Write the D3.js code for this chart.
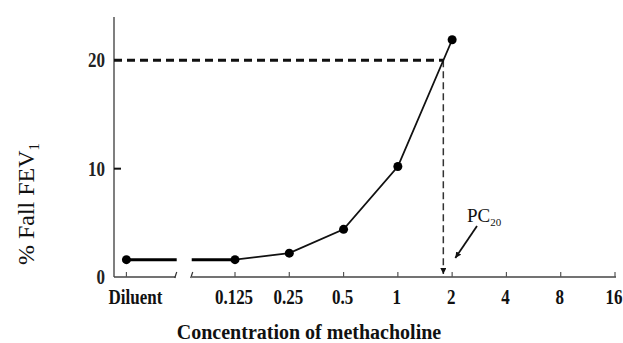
<!DOCTYPE html>
<html>
<head>
<meta charset="utf-8">
<script src="https://cdn.jsdelivr.net/npm/d3@7"></script>
<style>
  body { margin: 0; background: #fff; }
  svg { display: block; }
</style>
</head>
<body>
<div id="chart"></div>
<script>
// concentrations on the x axis (log2), diluent is drawn before the break
const concLabels = ["0.125", "0.25", "0.5", "1", "2", "4", "8", "16"]
const concValues = [0.125, 0.25, 0.5, 1, 2, 4, 8, 16]
const diluentLabel = "Diluent"
const diluentFall = 1.6
// measured points (conc, % fall)
const doseConc = [0.125, 0.25, 0.5, 1, 2]
const doseFall = [1.6, 2.2, 4.4, 10.2, 21.9]
const yTicks = [0, 10, 20]
const threshold = 20

const width = 623, height = 343
const svg = d3.select('#chart').append('svg')
  .attr('width', width).attr('height', height)

const x = d3.scaleLog().base(2).domain([0.125, 16]).range([235, 615])
const y = d3.scaleLinear().domain([0, 24]).range([277, 17])
const xDil = x(0.125 / 4)          // diluent sits two steps left of 0.125
const breakL = x(1 / 16) - 5, breakR = x(1 / 16) + 11

const serif = '"Liberation Serif", "Times New Roman", serif'
// narrow bold labels like the scanned figure
const tickLabel = (sel) => sel
  .attr('font-family', serif)
  .attr('font-weight', 'bold')
  .attr('font-size', 20)
  .attr('fill', '#111')

// y axis
svg.append('line')
  .attr('x1', 114).attr('x2', 114)
  .attr('y1', y(24)).attr('y2', y(0))
  .attr('stroke', '#555').attr('stroke-width', 1.5)

svg.append('line')
  .attr('x1', 114).attr('x2', 121)
  .attr('y1', y(10)).attr('y2', y(10))
  .attr('stroke', '#111').attr('stroke-width', 2)

svg.selectAll('text.ytick')
  .data(yTicks)
  .join('text')
  .attr('class', 'ytick')
  .attr('transform', d => `translate(105,${y(d) + 7}) scale(0.85,1)`)
  .attr('text-anchor', 'end')
  .call(tickLabel)
  .attr('fill', '#222')
  .text(d => d)

// x axis with a break between diluent and 0.125
const axisY = y(0)
svg.append('line')
  .attr('x1', 114).attr('x2', breakL)
  .attr('y1', axisY).attr('y2', axisY)
  .attr('stroke', '#444').attr('stroke-width', 1.5)
svg.append('line')
  .attr('x1', breakR).attr('x2', 616)
  .attr('y1', axisY).attr('y2', axisY)
  .attr('stroke', '#444').attr('stroke-width', 1.5)

// break slashes
;[breakL, breakR].forEach(bx => {
  svg.append('line')
    .attr('x1', bx - 1).attr('x2', bx + 1)
    .attr('y1', axisY + 1).attr('y2', axisY - 5)
    .attr('stroke', '#333').attr('stroke-width', 1.2)
})

// x ticks
svg.selectAll('line.xtick')
  .data([xDil].concat(concValues.map(d => x(d))))
  .join('line')
  .attr('class', 'xtick')
  .attr('x1', d => d).attr('x2', d => d)
  .attr('y1', axisY).attr('y2', axisY - 5)
  .attr('stroke', '#555').attr('stroke-width', 1.2)

svg.append('text')
  .attr('transform', `translate(${xDil + 9},${axisY + 27}) scale(0.85,1)`)
  .attr('text-anchor', 'middle')
  .call(tickLabel)
  .text(diluentLabel)

svg.selectAll('text.xtick')
  .data(concValues)
  .join('text')
  .attr('class', 'xtick')
  .attr('transform', d => `translate(${x(d) - 1},${axisY + 27}) scale(0.85,1)`)
  .attr('text-anchor', 'middle')
  .call(tickLabel)
  .text((d, i) => concLabels[i])

// PC20 by interpolation on log2 conc
let pc20 = null
for (let i = 1; i < doseConc.length; i++) {
  if (doseFall[i - 1] < threshold && doseFall[i] >= threshold) {
    const t = (threshold - doseFall[i - 1]) / (doseFall[i] - doseFall[i - 1])
    pc20 = Math.pow(2, Math.log2(doseConc[i - 1]) + t * (Math.log2(doseConc[i]) - Math.log2(doseConc[i - 1])))
  }
}
const pcX = x(pc20)

svg.append('defs').append('marker')
  .attr('id', 'arr')
  .attr('viewBox', '0 0 10 10')
  .attr('refX', 10).attr('refY', 5)
  .attr('markerWidth', 6).attr('markerHeight', 6)
  .attr('markerUnits', 'userSpaceOnUse')
  .attr('orient', 'auto')
  .append('path')
  .attr('d', 'M0,0L10,5L0,10z')
  .attr('fill', '#111')

// dashed guides
svg.append('line')
  .attr('x1', 114).attr('x2', pcX)
  .attr('y1', y(threshold)).attr('y2', y(threshold))
  .attr('stroke', '#111').attr('stroke-width', 3)
  .attr('stroke-dasharray', '8,5')

svg.append('line')
  .attr('x1', pcX).attr('x2', pcX)
  .attr('y1', y(threshold)).attr('y2', axisY - 3)
  .attr('stroke', '#333').attr('stroke-width', 1.5)
  .attr('stroke-dasharray', '7,4')
  .attr('marker-end', 'url(#arr)')

// data line: thick diluent segment with break, then curve
svg.append('line')
  .attr('x1', xDil).attr('x2', breakL + 1)
  .attr('y1', y(diluentFall)).attr('y2', y(diluentFall))
  .attr('stroke', '#000').attr('stroke-width', 3)
svg.append('line')
  .attr('x1', breakR).attr('x2', x(doseConc[0]))
  .attr('y1', y(diluentFall)).attr('y2', y(doseFall[0]))
  .attr('stroke', '#000').attr('stroke-width', 3)

const line = d3.line()
  .x((d, i) => x(doseConc[i]))
  .y(d => y(d))
svg.append('path')
  .attr('d', line(doseFall))
  .attr('fill', 'none')
  .attr('stroke', '#111').attr('stroke-width', 1.8)

svg.selectAll('circle.pt')
  .data([[xDil, diluentFall]].concat(doseConc.map((c, i) => [x(c), doseFall[i]])))
  .join('circle')
  .attr('class', 'pt')
  .attr('cx', d => d[0]).attr('cy', d => y(d[1]))
  .attr('r', 4.5)
  .attr('fill', '#000')

// PC20 label + arrow
const pcLabel = svg.append('text')
  .attr('x', 467).attr('y', 222)
  .attr('font-family', serif).attr('font-size', 19).attr('fill', '#111')
pcLabel.append('tspan').text('PC')
pcLabel.append('tspan').attr('font-size', 11).attr('dy', 4).text('20')

svg.append('line')
  .attr('x1', 477).attr('y1', 226)
  .attr('x2', pcX + 12).attr('y2', 258)
  .attr('stroke', '#111').attr('stroke-width', 1.8)
  .attr('marker-end', 'url(#arr)')

// axis titles
const yt = svg.append('text')
  .attr('transform', 'translate(34,204) rotate(-90)')
  .attr('text-anchor', 'middle')
  .attr('font-family', serif).attr('font-size', 24).attr('fill', '#111')
yt.append('tspan').text('% Fall FEV')
yt.append('tspan').attr('font-size', 15).attr('dy', 5).text('1')

svg.append('text')
  .attr('x', 309).attr('y', 339)
  .attr('text-anchor', 'middle')
  .attr('font-family', serif).attr('font-weight', 'bold')
  .attr('font-size', 20).attr('fill', '#111')
  .text('Concentration of methacholine')
</script>
</body>
</html>
